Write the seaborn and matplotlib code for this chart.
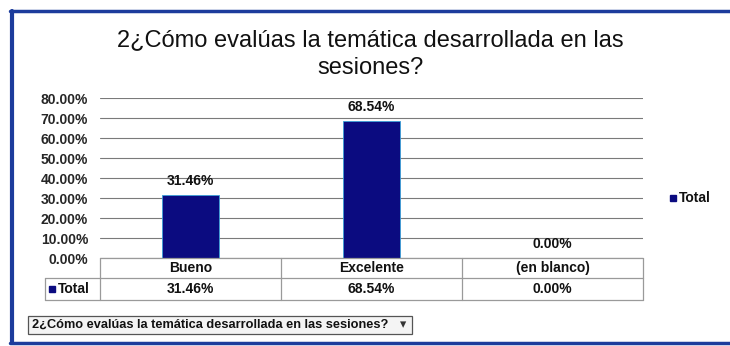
import matplotlib
matplotlib.use("Agg")
import matplotlib.pyplot as plt
import seaborn as sns
import pandas as pd
from matplotlib.patches import Rectangle
from matplotlib.lines import Line2D

# data
categories = ["Bueno", "Excelente", "(en blanco)"]
values = [31.46, 68.54, 0.00]
series_name = "Total"
title = "2¿Cómo evalúas la temática desarrollada en las\nsesiones?"
dropdown_text = "2¿Cómo evalúas la temática desarrollada en las sesiones?"

df = pd.DataFrame({"cat": categories, "val": values})

sns.set_theme(style="white")
plt.rcParams["font.family"] = ["Liberation Sans", "DejaVu Sans"]

W, H = 730, 346
fig = plt.figure(figsize=(W / 100, H / 100), dpi=100)
fig.patch.set_facecolor("white")

def fx(px):
    return px / W

def fy(py):
    return 1 - py / H

navy = "#0b0b80"
border = "#1c3c9c"
fs = 10

# blue frame around the whole chart
fig.add_artist(Line2D([fx(10), fx(730)], [fy(11), fy(11)], color=border, lw=2.5))
fig.add_artist(Line2D([fx(12), fx(12)], [fy(11), fy(343)], color=border, lw=3))
fig.add_artist(Line2D([fx(10), fx(730)], [fy(343), fy(343)], color=border, lw=2.5))

ax = fig.add_axes([fx(100), fy(258), fx(643) - fx(100), fy(98) - fy(258)])
sns.barplot(data=df, x="cat", y="val", color=navy, width=0.315, ax=ax,
            edgecolor="#3aa0d8", linewidth=0.6, saturation=1)
ax.set_ylim(0, 80)
ax.set_xlim(-0.5, 2.5)
ax.set_yticks(range(0, 81, 10))
ax.set_yticklabels([f"{v:.2f}%" for v in range(0, 81, 10)], fontsize=fs,
                   fontweight="bold")
ax.tick_params(axis="y", length=0, pad=8.5)
ax.set_xticks([])
ax.set_xlabel("")
ax.set_ylabel("")
ax.yaxis.grid(True, color="#7a7a7a", lw=0.8)
ax.set_axisbelow(True)
for s in ax.spines.values():
    s.set_visible(False)

# value labels
for i, v in enumerate(values):
    ax.text(i, v + 3.5, f"{v:.2f}%", ha="center", va="bottom", fontsize=fs,
            fontweight="bold", color="#111111")

fig.text(fx(370), fy(54), title, ha="center", va="center", fontsize=17,
         linespacing=1.3, color="#111111")

# data table under the plot
tc = "#9a9a9a"
fig.add_artist(Line2D([fx(100), fx(643)], [fy(258), fy(258)], color=tc, lw=0.9))
fig.add_artist(Line2D([fx(45), fx(643)], [fy(278), fy(278)], color=tc, lw=0.9))
fig.add_artist(Line2D([fx(45), fx(643)], [fy(300), fy(300)], color=tc, lw=0.9))
fig.add_artist(Line2D([fx(45), fx(45)], [fy(278), fy(300)], color=tc, lw=0.9))
for xb in [100, 281, 462, 643]:
    fig.add_artist(Line2D([fx(xb), fx(xb)], [fy(258), fy(300)], color=tc, lw=0.9))
for i, (c, v) in enumerate(zip(categories, values)):
    xc = 190.5 + 181 * i
    fig.text(fx(xc), fy(268), c, ha="center", va="center", fontsize=fs,
             fontweight="bold", color="#111111")
    fig.text(fx(xc), fy(289), f"{v:.2f}%", ha="center", va="center",
             fontsize=fs, fontweight="bold", color="#111111")
fig.add_artist(Rectangle((fx(49), fy(292)), fx(6), fy(286) - fy(292),
                         color=navy, transform=fig.transFigure))
fig.text(fx(58), fy(289), series_name, ha="left", va="center", fontsize=fs,
         fontweight="bold", color="#111111")

# legend
fig.add_artist(Rectangle((fx(670), fy(201)), fx(6), fy(195) - fy(201),
                         color=navy, transform=fig.transFigure))
fig.text(fx(679), fy(198), series_name, ha="left", va="center", fontsize=fs,
         fontweight="bold", color="#111111")

# field dropdown button
fig.add_artist(Rectangle((fx(28), fy(334)), fx(412) - fx(28), fy(316) - fy(334),
                         facecolor="#f4f4f4", edgecolor="#555555", lw=0.9,
                         transform=fig.transFigure))
fig.text(fx(32), fy(325), dropdown_text, ha="left", va="center", fontsize=9.2,
         fontweight="bold", color="#111111")
fig.text(fx(403), fy(325), "▾", ha="center", va="center", fontsize=9,
         color="#333333", family=["DejaVu Sans"])

fig.savefig("out.png", dpi=100)
